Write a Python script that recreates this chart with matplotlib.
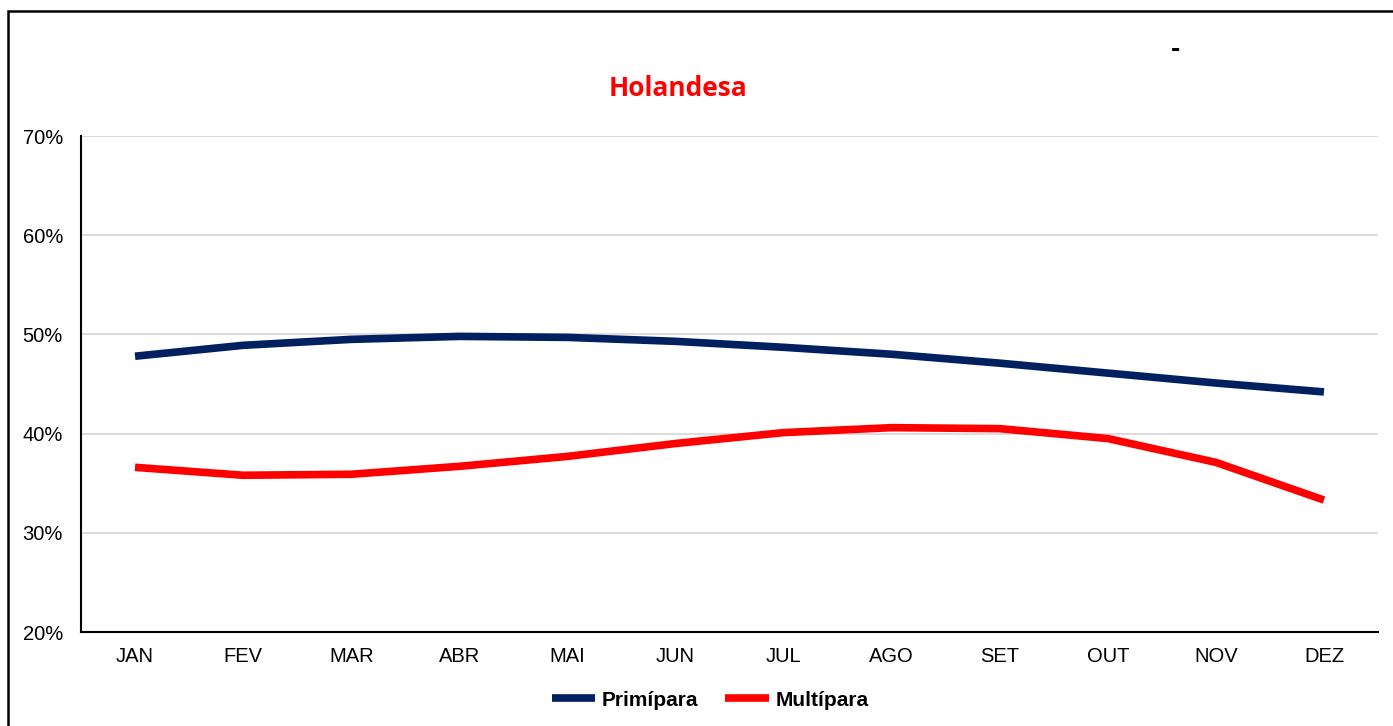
import matplotlib
matplotlib.use('Agg')
import matplotlib.pyplot as plt
from matplotlib.patches import Rectangle
from matplotlib.ticker import FuncFormatter

months = ['JAN', 'FEV', 'MAR', 'ABR', 'MAI', 'JUN', 'JUL', 'AGO', 'SET', 'OUT', 'NOV', 'DEZ']
primipara = [47.8, 48.9, 49.5, 49.8, 49.7, 49.3, 48.7, 48.0, 47.1, 46.1, 45.1, 44.2]
multipara = [36.6, 35.8, 35.9, 36.7, 37.7, 39.0, 40.1, 40.6, 40.5, 39.5, 37.1, 33.3]
y_ticks = [20, 30, 40, 50, 60, 70]

plt.rcParams['font.family'] = ['Liberation Sans', 'DejaVu Sans']

fig = plt.figure(figsize=(13.93, 7.26), dpi=100)
ax = fig.add_axes([81 / 1393, 1 - 632 / 726, (1378 - 81) / 1393, (632 - 136) / 726])

x = list(range(len(months)))
ax.plot(x, primipara, color='#002060', linewidth=5.5, label='Primípara', solid_capstyle='butt')
ax.plot(x, multipara, color='#FF0000', linewidth=5.5, label='Multípara', solid_capstyle='butt')

ax.set_xlim(-0.5, len(months) - 0.5)
ax.set_ylim(20, 70)
ax.set_yticks(y_ticks)
ax.yaxis.set_major_formatter(FuncFormatter(lambda v, p: '%d%%' % v))
ax.set_xticks(x)
ax.set_xticklabels(months)
ax.tick_params(axis='both', length=0, labelsize=14.5, pad=11)
ax.tick_params(axis='y', pad=13)
ax.grid(axis='y', color='#d9d9d9', linewidth=1.3)
ax.set_axisbelow(True)
for s in ['top', 'right']:
    ax.spines[s].set_visible(False)
for s in ['left', 'bottom']:
    ax.spines[s].set_color('black')
    ax.spines[s].set_linewidth(1.5)

fig.text(678 / 1393, 1 - 88 / 726, 'Holandesa', color='#FF0000', fontsize=19,
         fontweight='bold', family=['Open Sans', 'DejaVu Sans'], ha='center', va='center')
fig.text(1175 / 1393, 1 - 50 / 726, '-', fontsize=20, fontweight='bold', ha='center', va='center')

leg = fig.legend(loc='center', bbox_to_anchor=(710 / 1393, 1 - 700 / 726), ncol=2, frameon=False,
                 prop={'weight': 'bold', 'size': 15}, handlelength=2.1, columnspacing=1.3,
                 handletextpad=0.3)

# figure border
fig.patches.append(Rectangle((8 / 1393, -0.05), 1.1, 1 - 11 / 726 + 0.05, transform=fig.transFigure,
                             fill=False, edgecolor='black', linewidth=1.8))

fig.savefig('out.png', dpi=100)
